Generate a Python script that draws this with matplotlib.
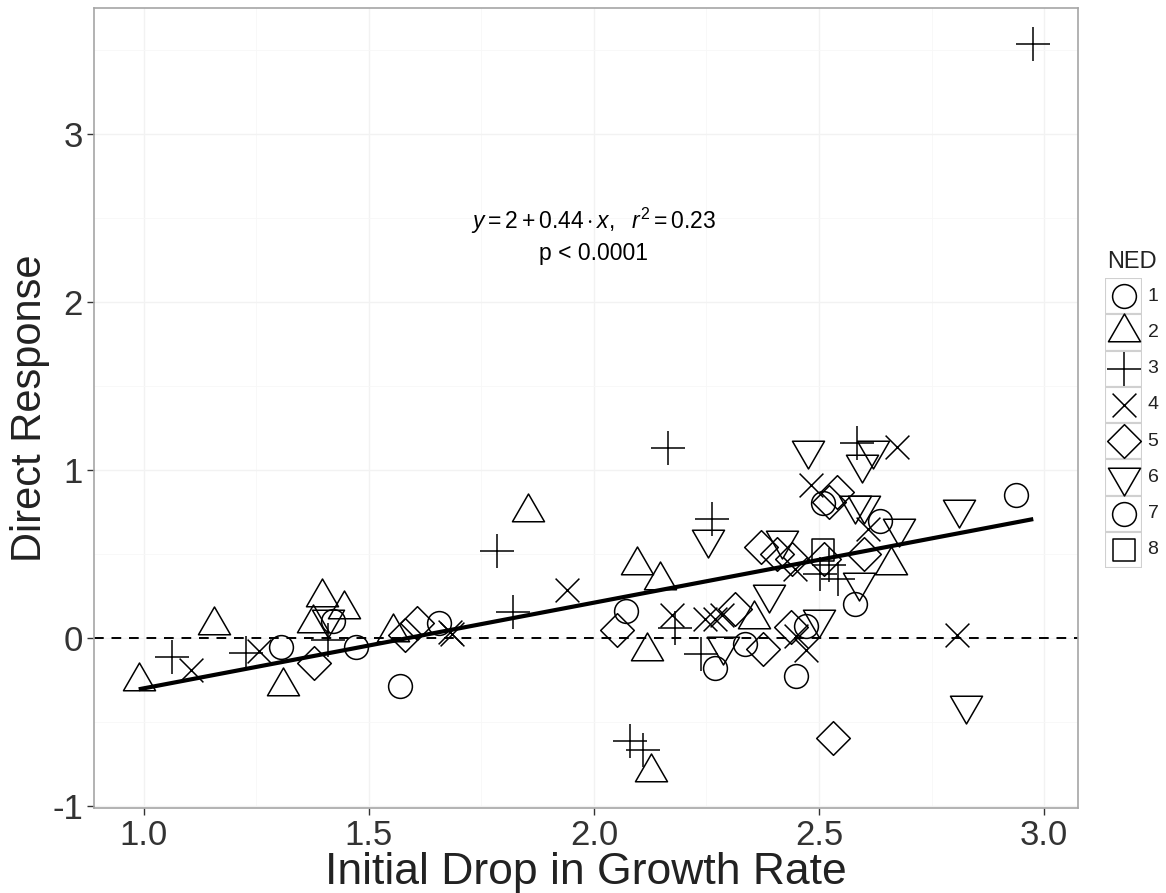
import numpy as np
import matplotlib
matplotlib.use("Agg")
import matplotlib.pyplot as plt
from matplotlib.path import Path
from matplotlib.patches import Rectangle

plt.rcParams['font.family'] = ['Liberation Sans', 'DejaVu Sans']
plt.rcParams['mathtext.fontset'] = 'custom'
plt.rcParams['mathtext.rm'] = 'Liberation Sans'
plt.rcParams['mathtext.it'] = 'Liberation Sans:italic'
plt.rcParams['axes.unicode_minus'] = False

# initial drop in growth rate (x) and direct response (y) per NED group
ned1_x = [1.304, 1.472, 1.570, 2.268, 2.508, 2.579, 2.450]
ned1_y = [-0.054, -0.054, -0.287, -0.180, 0.802, 0.198, -0.228]

ned2_x = [0.989, 1.157, 1.310, 1.395, 1.446, 1.377, 1.554, 1.854, 2.095, 2.146, 2.118, 2.126, 2.355, 2.661]
ned2_y = [-0.257, 0.078, -0.287, 0.240, 0.168, 0.090, 0.036, 0.749, 0.431, 0.341, -0.078, -0.798, 0.108, 0.431]

ned3_x = [1.064, 1.228, 1.410, 1.785, 1.820, 2.164, 2.262, 2.180, 2.239, 2.080, 2.109, 2.585, 2.503, 2.523, 2.543, 2.976]
ned3_y = [-0.114, -0.090, -0.012, 0.515, 0.150, 1.132, 0.707, 0.060, -0.096, -0.613, -0.669, 1.162, 0.377, 0.431, 0.347, 3.533]

ned4_x = [1.106, 1.257, 1.681, 1.685, 1.940, 2.173, 2.246, 2.268, 2.284, 2.483, 2.674, 2.608, 2.446, 2.450, 2.472, 2.807]
ned4_y = [-0.192, -0.078, 0.036, 0.024, 0.281, 0.132, 0.108, 0.108, 0.132, 0.910, 1.138, 0.647, 0.407, 0.012, -0.072, 0.018]

ned5_x = [1.379, 1.581, 1.608, 2.051, 2.313, 2.375, 2.437, 2.372, 2.406, 2.439, 2.512, 2.601, 2.523, 2.541, 2.532]
ned5_y = [-0.150, 0.018, 0.090, 0.048, 0.168, -0.066, 0.066, 0.539, 0.497, 0.467, 0.467, 0.497, 0.808, 0.868, -0.599]

ned6_x = [1.410, 2.253, 2.286, 2.475, 2.596, 2.619, 2.579, 2.601, 2.678, 2.417, 2.590, 2.390, 2.501, 2.812, 2.827]
ned6_y = [0.108, 0.587, -0.048, 1.120, 1.036, 1.120, 0.790, 0.790, 0.653, 0.581, 0.329, 0.257, 0.108, 0.766, -0.401]

ned7_x = [1.421, 1.656, 2.071, 2.335, 2.636, 2.472, 2.938]
ned7_y = [0.102, 0.090, 0.156, -0.036, 0.695, 0.072, 0.850]

ned8_x = [2.510]
ned8_y = [0.521]

groups = ["1", "2", "3", "4", "5", "6", "7", "8"]
xs = [ned1_x, ned2_x, ned3_x, ned4_x, ned5_x, ned6_x, ned7_x, ned8_x]
ys = [ned1_y, ned2_y, ned3_y, ned4_y, ned5_y, ned6_y, ned7_y, ned8_y]


# R-style point shapes, in units of the base radius
def closed(v):
    v = list(v) + [(0, 0)]
    codes = [Path.MOVETO] + [Path.LINETO] * (len(v) - 2) + [Path.CLOSEPOLY]
    return Path(v, codes)


def segs(pairs):
    v, codes = [], []
    for a, b in pairs:
        v += [a, b]
        codes += [Path.MOVETO, Path.LINETO]
    return Path(v, codes)


circ = Path.unit_circle()
tri_up = closed([(0, 1.555), (1.347, -0.778), (-1.347, -0.778)])
tri_dn = closed([(0, -1.555), (1.347, 0.778), (-1.347, 0.778)])
plus = segs([((-1.414, 0), (1.414, 0)), ((0, -1.414), (0, 1.414))])
cross = segs([((-1, -1), (1, 1)), ((-1, 1), (1, -1))])
diam = closed([(0, 1.414), (1.414, 0), (0, -1.414), (-1.414, 0)])
sq = closed([(-0.886, -0.886), (0.886, -0.886), (0.886, 0.886), (-0.886, 0.886)])
shapes = [(circ, 1.0), (tri_up, 1.555), (plus, 1.414), (cross, 1.0),
          (diam, 1.414), (tri_dn, 1.555), (circ, 1.0), (sq, 0.886)]

R = 11.9 * 72 / 100  # base radius in points
MEW = 1.1

fig = plt.figure(figsize=(11.66, 8.93), dpi=100)
ax = fig.add_axes([94 / 1166, 1 - 808 / 893, 984 / 1166, 800 / 893])

all_x = np.concatenate([np.array(v) for v in xs])
all_y = np.concatenate([np.array(v) for v in ys])
xr = all_x.max() - all_x.min()
yr = all_y.max() - all_y.min()
ax.set_xlim(all_x.min() - 0.05 * xr, all_x.max() + 0.05 * xr)
ax.set_ylim(all_y.min() - 0.05 * yr, all_y.max() + 0.05 * yr)

ax.set_xticks([1.0, 1.5, 2.0, 2.5, 3.0])
ax.set_xticks([1.25, 1.75, 2.25, 2.75], minor=True)
ax.set_yticks([-1, 0, 1, 2, 3])
ax.set_yticks([-0.5, 0.5, 1.5, 2.5, 3.5], minor=True)
ax.grid(True, which='major', color='#F2F2F2', lw=1.0)
ax.grid(True, which='minor', color='#F7F7F7', lw=0.6)
ax.set_axisbelow(True)
ax.tick_params(which='minor', length=0)
ax.tick_params(which='major', length=5, width=1, color='#333333',
               labelsize=25, labelcolor='#333333', pad=3)
for s in ax.spines.values():
    s.set_color('#A6A6A6')
    s.set_linewidth(1.2)

ax.axhline(0, color='black', lw=1.4, ls=(0, (5, 4)), zorder=1)

for (shp, m), gx, gy in zip(shapes, xs, ys):
    ax.plot(gx, gy, ls='none', marker=shp, ms=2 * m * R, mfc='none',
            mec='black', mew=MEW, zorder=3)

# least squares line over all points
b, a = np.polyfit(all_x, all_y, 1)
lx = np.array([all_x.min(), all_x.max()])
ax.plot(lx, a + b * lx, color='black', lw=3, zorder=4, solid_capstyle='butt')

ax.text(2.0, 2.48, r'$y = 2 + 0.44 \cdot x,\ \ r^2 = 0.23$', ha='center', va='center', fontsize=16.5)
ax.text(2.0, 2.29, 'p < 0.0001', ha='center', va='center', fontsize=16.5)

ax.set_xlabel('Initial Drop in Growth Rate', fontsize=32, color='#222222', labelpad=0)
ax.set_ylabel('Direct Response', fontsize=30, color='#222222', va='center')
ax.yaxis.set_label_coords(-0.065, 0.5)

# legend drawn as its own small axes of keyed boxes
lg = fig.add_axes([1105 / 1166, 1 - 568 / 893, 37 / 1166, 290 / 893])
lg.set_xlim(0, 1)
lg.set_ylim(len(groups), 0)
lg.axis('off')
for i, ((shp, m), g) in enumerate(zip(shapes, groups)):
    lg.add_patch(Rectangle((0, i), 1, 1, fc='white', ec='#D0D0D0', lw=1.5))
    lg.plot([0.5], [i + 0.5], ls='none', marker=shp, ms=2 * m * R, mfc='none',
            mec='black', mew=MEW)
    lg.text(1.15, i + 0.5, g, ha='left', va='center', fontsize=14, color='#222222')
lg.text(0.05, -0.45, 'NED', ha='left', va='center', fontsize=17, color='#222222')

fig.savefig('out.png', dpi=100)
